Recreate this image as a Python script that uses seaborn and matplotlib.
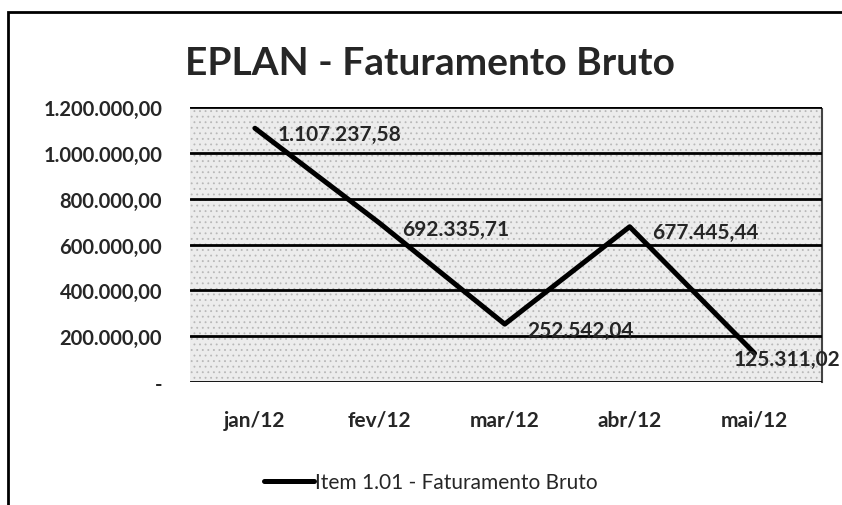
import numpy as np
import pandas as pd
import matplotlib
matplotlib.use("Agg")
import matplotlib.pyplot as plt
import seaborn as sns
from matplotlib.ticker import FuncFormatter, MultipleLocator
from matplotlib.patches import Rectangle

# dados
meses = ["jan/12", "fev/12", "mar/12", "abr/12", "mai/12"]
faturamento = [1107237.58, 692335.71, 252542.04, 677445.44, 125311.02]
serie = "Item 1.01 - Faturamento Bruto"
titulo = "EPLAN - Faturamento Bruto"

df = pd.DataFrame({"mes": meses, "valor": faturamento})
df["pos"] = range(len(meses))

sns.set_style("white")
plt.rcParams["font.family"] = ["Lato", "DejaVu Sans"]
plt.rcParams["hatch.linewidth"] = 0.6


def br(v, pos=None):
    if v == 0:
        return "-"
    s = f"{v:,.2f}"
    return s.replace(",", "X").replace(".", ",").replace("X", ".")


fig = plt.figure(figsize=(8.42, 5.06), dpi=100)
ax = fig.add_axes([190 / 842, 1 - 383 / 506, 632 / 842, 275 / 506])
ax.set_facecolor("#ececec")
# textura pontilhada do fundo
ax.add_patch(Rectangle((0, 0), 1, 1, transform=ax.transAxes, facecolor="none",
                       edgecolor="#b8b8b8", hatch="...", linewidth=0, zorder=0))

sns.lineplot(data=df, x="pos", y="valor", color="black", linewidth=3.6,
             ax=ax, label=serie, legend=False)

ax.set_xlim(-0.52, 4.54)
ax.set_ylim(0, 1200000)
ax.yaxis.set_major_locator(MultipleLocator(200000))
ax.yaxis.set_major_formatter(FuncFormatter(br))
ax.set_xticks(df["pos"])
ax.set_xticklabels(meses)
ax.grid(axis="y", color="black", linewidth=2, zorder=1)
ax.set_axisbelow(False)
for s in ["left", "top", "bottom"]:
    ax.spines[s].set_visible(False)
ax.spines["right"].set_linestyle((0, (2, 1)))
ax.spines["right"].set_color("#444444")
ax.spines["right"].set_linewidth(1.5)
ax.tick_params(axis="y", length=0, labelsize=14.5, pad=20)
ax.tick_params(axis="x", length=0, labelsize=15, pad=20)
for t in ax.get_yticklabels() + ax.get_xticklabels():
    t.set_fontweight("bold")
ax.set_xlabel("")
ax.set_ylabel("")
for ln in ax.get_lines():
    ln.set_zorder(3)

# rotulos de dados
for i, v in enumerate(faturamento):
    dx = 16 if i < 4 else -15
    ax.annotate(br(v), (i, v), xytext=(dx, -4), textcoords="offset points",
                ha="left", va="center", fontsize=15, fontweight="bold",
                annotation_clip=False, zorder=4)

fig.text(430 / 842, 1 - 64 / 506, titulo, ha="center", va="center",
         fontsize=28, fontweight="bold")

handles, labels = ax.get_legend_handles_labels()
fig.legend(handles, labels, loc="center", bbox_to_anchor=(431 / 842, 1 - 483 / 506),
           frameon=False, fontsize=15, handlelength=2.4, handletextpad=0.05)

fig.add_artist(Rectangle((8 / 842, -0.1), 1.0, 1 - 13 / 506 + 0.1,
                         transform=fig.transFigure, fill=False,
                         edgecolor="black", linewidth=2))

fig.savefig("out.png", dpi=100)
